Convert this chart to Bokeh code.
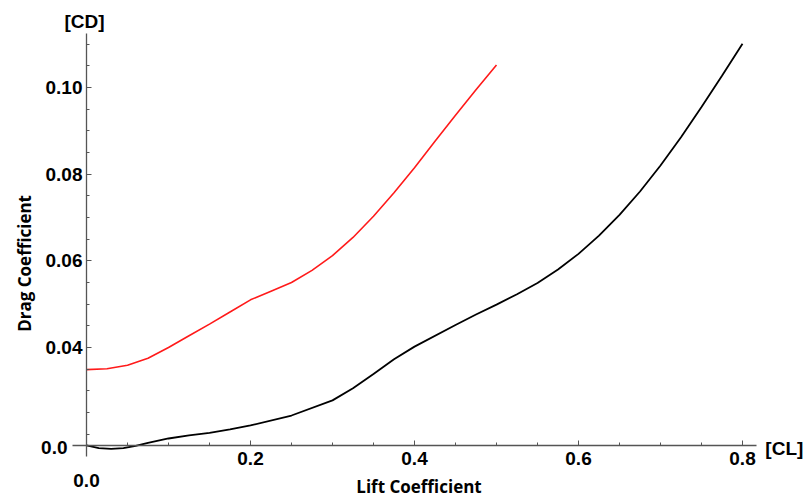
from bokeh.plotting import figure
from bokeh.models import LinearAxis, FixedTicker, Range1d, Label
from bokeh.embed import file_html
from bokeh.resources import INLINE

# ---- data ----
black_cl = [0.0, 0.015, 0.03, 0.045, 0.06, 0.075, 0.1, 0.125, 0.15, 0.175, 0.2, 0.25,
            0.3, 0.325, 0.35, 0.375, 0.4, 0.45, 0.475, 0.5, 0.525, 0.55, 0.575, 0.6,
            0.625, 0.65, 0.675, 0.7, 0.725, 0.75, 0.775, 0.8]
black_cd = [0.0174, 0.0168, 0.0166, 0.0168, 0.0173, 0.0180, 0.0190, 0.0197, 0.0203,
            0.0211, 0.0220, 0.0243, 0.0278, 0.0306, 0.0339, 0.0373, 0.0402, 0.0452,
            0.0476, 0.0499, 0.0523, 0.0549, 0.0580, 0.0616, 0.0658, 0.0706, 0.0760,
            0.0820, 0.0885, 0.0955, 0.1027, 0.1101]
red_cl = [0.0, 0.025, 0.05, 0.075, 0.1, 0.125, 0.15, 0.175, 0.2, 0.225, 0.25, 0.275,
          0.3, 0.325, 0.35, 0.375, 0.4, 0.425, 0.45, 0.475, 0.5]
red_cd = [0.0349, 0.0351, 0.0359, 0.0375, 0.0400, 0.0427, 0.0454, 0.0482, 0.0510,
          0.0530, 0.0550, 0.0578, 0.0612, 0.0654, 0.0703, 0.0757, 0.0815, 0.0876,
          0.0936, 0.0995, 0.1052]

x_ticks = [0.2, 0.4, 0.6, 0.8]
x_tick_labels = ["0.2", "0.4", "0.6", "0.8"]
x_minor = [0.05, 0.1, 0.15, 0.25, 0.3, 0.35, 0.45, 0.5, 0.55, 0.65, 0.7, 0.75]
y_ticks = [0.04, 0.06, 0.08, 0.10]
y_tick_labels = ["0.04", "0.06", "0.08", "0.10"]
y_minor = [0.02, 0.025, 0.03, 0.035, 0.045, 0.05, 0.055, 0.065, 0.07, 0.075,
           0.085, 0.09, 0.095, 0.105, 0.11]
axis_origin_y = 0.0174
origin_label = "0.0"
x_title = "Lift Coefficient"
y_title = "Drag Coefficient"
x_unit = "[CL]"
y_unit = "[CD]"

W, H = 806, 499
p = figure(width=W, height=H, output_backend="svg", toolbar_location=None,
           x_axis_type=None, y_axis_type=None,
           x_range=Range1d(-0.10488, 0.87805), y_range=Range1d(0.00492, 0.12008),
           min_border_left=0, min_border_right=0, min_border_top=0,
           min_border_bottom=0)
p.outline_line_color = None
p.xgrid.visible = False
p.ygrid.visible = False
p.background_fill_color = "white"

AX_COLOR = "#555555"
TICK_FONT = "Liberation Sans"

xa = LinearAxis(fixed_location=axis_origin_y,
                ticker=FixedTicker(ticks=x_ticks, minor_ticks=x_minor),
                bounds=(-0.017, 0.817))
xa.major_label_overrides = {t: l for t, l in zip(x_ticks, x_tick_labels)}
ya = LinearAxis(fixed_location=0.0,
                ticker=FixedTicker(ticks=y_ticks, minor_ticks=y_minor),
                bounds=(0.0148, 0.1125))
ya.major_label_overrides = {t: l for t, l in zip(y_ticks, y_tick_labels)}

for ax in (xa, ya):
    ax.axis_line_color = AX_COLOR
    ax.axis_line_width = 1.3
    ax.major_tick_line_color = AX_COLOR
    ax.minor_tick_line_color = AX_COLOR
    ax.major_tick_in = 5
    ax.major_tick_out = 0
    ax.minor_tick_in = 3
    ax.minor_tick_out = 0
    ax.major_label_text_font = TICK_FONT
    ax.major_label_text_font_style = "bold"
    ax.major_label_text_font_size = "19px"
    ax.major_label_text_color = "black"
xa.major_label_standoff = 7
ya.major_label_standoff = 4
p.add_layout(xa, "below")
p.add_layout(ya, "left")

p.line(black_cl, black_cd, line_color="black", line_width=1.8)
p.line(red_cl, red_cd, line_color="#ff1a1a", line_width=1.6)

def lab(x, y, t, align="center", base="middle", font=TICK_FONT, size="19px", angle=0):
    p.add_layout(Label(x=x, y=y, text=t, text_align=align, text_baseline=base,
                       text_font=font, text_font_style="bold", text_font_size=size,
                       text_color="black", angle=angle))

lab(-0.0232, 0.01700, origin_label, align="right")
lab(0.0, 0.00931, origin_label)
lab(0.851, 0.01669, x_unit)
lab(-0.0024, 0.1152, y_unit)
lab(0.4055, 0.00800, x_title, font="Open Sans", size="17px")
lab(-0.0756, 0.0594, y_title, font="Open Sans", size="17px", angle=1.5708)

open("out.html", "w").write(file_html(p, INLINE))
